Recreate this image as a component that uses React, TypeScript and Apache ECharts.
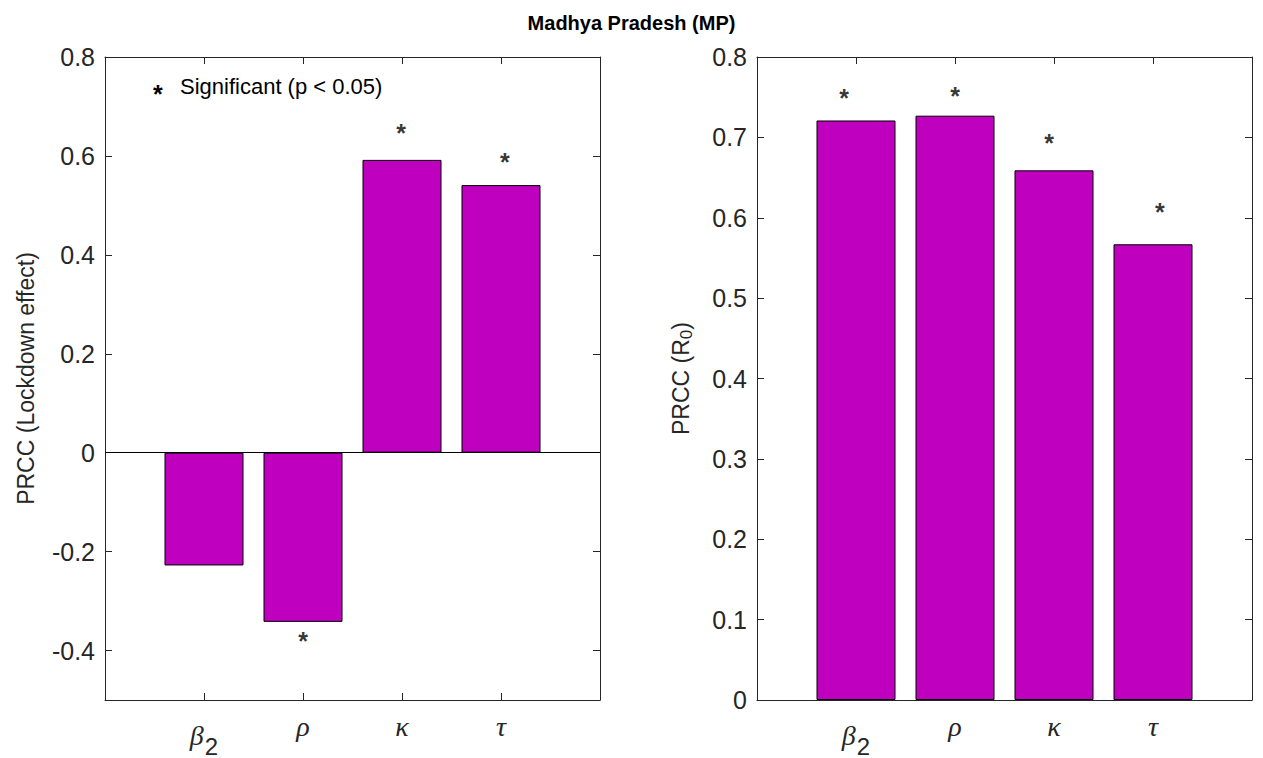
import React, { useEffect, useRef } from 'react';
import * as echarts from 'echarts';

// ---- data ----
const categorySymbols = ['β', 'ρ', 'κ', 'τ'];
const categorySubscripts = ['2', '', '', ''];
const categoryPositions = [1, 2, 3, 4];

const lockdownPRCC = [-0.228, -0.342, 0.592, 0.541];
const r0PRCC = [0.721, 0.727, 0.659, 0.567];

// significance asterisk positions (x in category units, y in PRCC units)
const lockdownStarX = [2.0, 2.99, 4.04];
const lockdownStarY = [-0.369, 0.658, 0.6];
const r0StarX = [0.88, 2.0, 2.95, 4.07];
const r0StarY = [0.756, 0.759, 0.701, 0.614];

const lockdownTicks = [-0.4, -0.2, 0, 0.2, 0.4, 0.6, 0.8];
const r0Ticks = [0, 0.1, 0.2, 0.3, 0.4, 0.5, 0.6, 0.7, 0.8];

const titleText = 'Madhya Pradesh (MP)';
const legendText = 'Significant (p < 0.05)';
const lockdownAxisName = 'PRCC (Lockdown effect)';

// ---- styles ----
const AX = '#262626';
const FONT = '"Liberation Sans", Arial, Helvetica, sans-serif';
const BAR = '#BF00BF';

const fmtTick = (v: number) => (Math.abs(v) < 1e-9 ? '0' : v.toFixed(1));
const xLabel = (v: number) => {
  const i = categoryPositions.indexOf(Math.round(v));
  if (i < 0) return '';
  const sub = categorySubscripts[i];
  return '{g|' + categorySymbols[i] + '}' + (sub ? '{s|' + sub + '}' : '');
};

const xRich = {
  g: { fontFamily: '"Liberation Serif", "DejaVu Serif", serif', fontStyle: 'italic', fontSize: 28, color: AX },
  s: { fontFamily: FONT, fontSize: 24, color: AX, padding: [22, 0, 0, 1], verticalAlign: 'bottom' },
};

function makeXAxes(gridIndex: number) {
  const common = {
    type: 'value',
    gridIndex,
    min: 0,
    max: 5,
    axisLine: { show: true, onZero: false, lineStyle: { color: AX, width: 1 } },
    axisTick: { show: true, inside: true, length: 7, customValues: categoryPositions, lineStyle: { color: AX } },
    splitLine: { show: false },
  };
  return [
    {
      ...common,
      position: 'bottom',
      axisLabel: { show: true, customValues: categoryPositions, formatter: xLabel, margin: 12, rich: xRich },
    },
    { ...common, position: 'top', axisLabel: { show: false } },
  ];
}

function makeYAxes(gridIndex: number, min: number, max: number, ticks: number[], name: string, nameGap: number, nameRich?: any) {
  const common = {
    type: 'value',
    gridIndex,
    min,
    max,
    axisLine: { show: true, onZero: false, lineStyle: { color: AX, width: 1 } },
    axisTick: { show: true, inside: true, length: 7, customValues: ticks, lineStyle: { color: AX } },
    splitLine: { show: false },
  };
  return [
    {
      ...common,
      position: 'left',
      axisLabel: { show: true, customValues: ticks, formatter: fmtTick, fontSize: 25, color: AX, fontFamily: FONT, margin: 10 },
      name,
      nameLocation: 'middle',
      nameGap,
      nameRotate: 90,
      nameTextStyle: { fontSize: 23, color: AX, fontFamily: FONT, rich: nameRich },
    },
    { ...common, position: 'right', axisLabel: { show: false } },
  ];
}

const zip = (xs: number[], ys: number[]) => xs.map((x, i) => [x, ys[i]]);

function starSeries(xAxisIndex: number, yAxisIndex: number, xs: number[], ys: number[]) {
  return {
    type: 'scatter',
    xAxisIndex,
    yAxisIndex,
    data: zip(xs, ys),
    symbol: 'circle',
    symbolSize: 2,
    itemStyle: { color: 'rgba(0,0,0,0)' },
    label: { show: true, position: 'inside', formatter: '*', fontSize: 25, fontWeight: 'bold', color: '#000', fontFamily: FONT, offset: [0, 6] },
    z: 5,
    silent: true,
  };
}

function barSeries(xAxisIndex: number, yAxisIndex: number, values: number[], zeroLine: boolean) {
  return {
    type: 'bar',
    xAxisIndex,
    yAxisIndex,
    data: zip(categoryPositions, values),
    barWidth: 79,
    itemStyle: { color: BAR, borderColor: '#000', borderWidth: 1 },
    silent: true,
    markLine: zeroLine
      ? {
          silent: true,
          symbol: 'none',
          label: { show: false },
          lineStyle: { color: '#000', width: 1, type: 'solid' },
          data: [{ yAxis: 0 }],
        }
      : undefined,
  };
}

export default function App() {
  const ref = useRef<HTMLDivElement>(null);
  useEffect(() => {
    document.body.style.margin = '0';
    const chart = echarts.init(ref.current!, null, { renderer: 'svg' });
    const option: any = {
      animation: false,
      backgroundColor: '#fff',
      textStyle: { fontFamily: FONT },
      title: {
        text: titleText,
        left: 'center',
        top: 8,
        textStyle: { fontSize: 20, fontWeight: 'bold', color: '#000', fontFamily: FONT },
      },
      grid: [
        { left: 105, top: 57, width: 495, height: 643 },
        { left: 757, top: 57, width: 495, height: 643 },
      ],
      xAxis: [...makeXAxes(0), ...makeXAxes(1)],
      yAxis: [
        ...makeYAxes(0, -0.5, 0.8, lockdownTicks, lockdownAxisName, 68),
        ...makeYAxes(1, 0, 0.8, r0Ticks, '{a|PRCC (R}{s|0}{a|)}', 62, {
          a: { fontSize: 23, color: AX, fontFamily: FONT },
          s: { fontSize: 17, color: AX, fontFamily: FONT, padding: [12, 0, 0, 0], verticalAlign: 'bottom' },
        }),
      ],
      graphic: [
        {
          type: 'text',
          left: 153,
          top: 81,
          style: { text: '*', fontSize: 25, fontWeight: 'bold', fill: '#000', fontFamily: FONT },
        },
        {
          type: 'text',
          left: 180,
          top: 75,
          style: { text: legendText, fontSize: 22, fill: '#000', fontFamily: FONT },
        },
      ],
      series: [
        barSeries(0, 0, lockdownPRCC, true),
        starSeries(0, 0, lockdownStarX, lockdownStarY),
        barSeries(2, 2, r0PRCC, false),
        starSeries(2, 2, r0StarX, r0StarY),
      ],
    };
    chart.setOption(option);
    return () => chart.dispose();
  }, []);
  return <div ref={ref} style={{ width: 1263, height: 758 }} />;
}
